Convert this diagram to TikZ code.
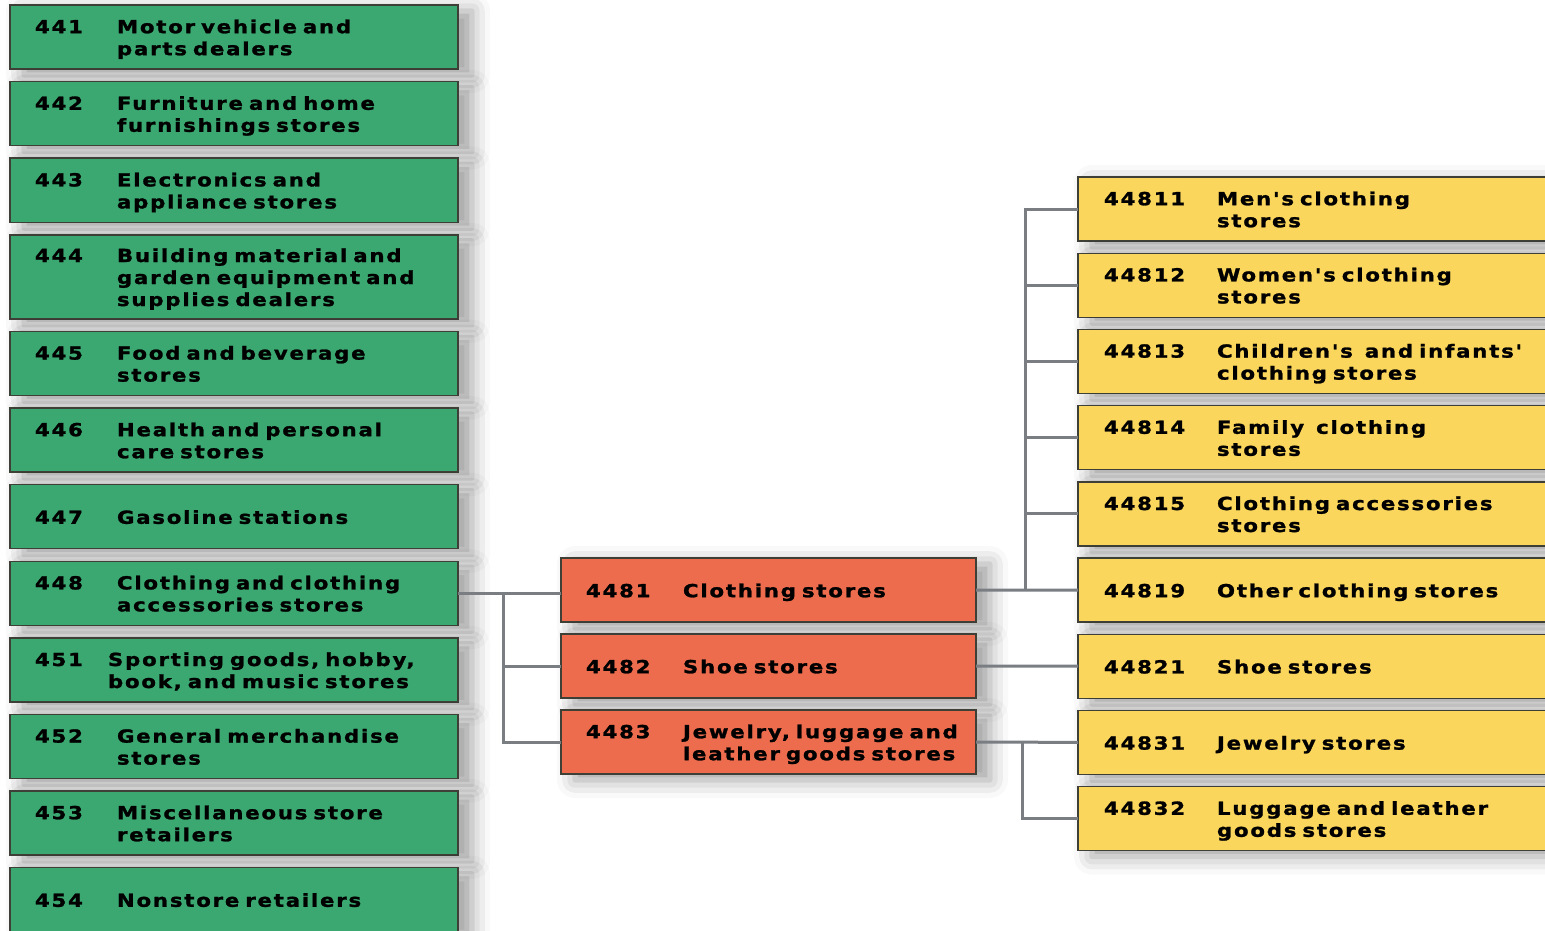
\documentclass[tikz,border=0pt]{standalone}
\usepackage{fontspec}
\newfontfamily\boxfont[FakeStretch=1.18,FakeBold=1.4,LetterSpace=10,WordSpace=1.9]{DejaVu Sans Bold}
\usepackage{tikz}
\usetikzlibrary{positioning, shadows.blur}
\definecolor{sicgreen}{RGB}{58,168,112}
\definecolor{sicred}{RGB}{238,108,78}
\definecolor{sicyellow}{RGB}{250,214,92}
\definecolor{sicborder}{RGB}{62,64,56}
\definecolor{linkgray}{RGB}{122,126,130}
% code in a fixed column, description lines next to it
\newcommand{\naics}[3][\codecol]{\rule{0pt}{21pt}\makebox[#1][l]{#2}\begin{tabular}[t]{@{}l@{}}#3\end{tabular}}
\def\codecol{82pt}
\tikzset{
	every node/.append style={
		outer sep=0pt,
	},
	sicbox/.append style={
		draw=sicborder,
		line width=1.4pt,
		minimum height=64pt,
		inner xsep=25pt,
		inner ysep=0pt,
		align=left,
		font={\boxfont\fontsize{18}{22}\selectfont},
		blur shadow={shadow xshift=14pt, shadow yshift=-6pt, shadow blur radius=18pt, shadow opacity=38}
	},
	sector/.append style={
		sicbox,
		fill=sicgreen,
		text width=398pt,
		execute at begin node={\def\codecol{82pt}}
	},
	industry/.append style={
		sicbox,
		fill=sicred,
		text width=365pt,
		execute at begin node={\def\codecol{97pt}}
	},
	national/.append style={
		sicbox,
		fill=sicyellow,
		inner xsep=26pt,
		text width=428pt,
		execute at begin node={\def\codecol{113pt}}
	},
	link/.append style={
		draw=linkgray,
		line width=3pt
	}
}

\begin{document}
\begin{tikzpicture}[x=1pt,y=1pt]
\useasboundingbox (0,0) rectangle (1545,-931);
\clip (0,0) rectangle (1545,-931);

\node(g441)[sector, anchor=north west] at (10,-5) {\naics{441}{Motor vehicle and\\parts dealers}};
\node(g442)[sector, below=12.6pt of g441] {\naics{442}{Furniture and home\\furnishings stores}};
\node(g443)[sector, below=12.6pt of g442] {\naics{443}{Electronics and\\appliance stores}};
\node(g444)[sector, below=12.6pt of g443, minimum height=84pt] {\naics{444}{Building material and\\garden equipment and\\supplies dealers}};
\node(g445)[sector, below=12.6pt of g444] {\naics{445}{Food and beverage\\stores}};
\node(g446)[sector, below=12.6pt of g445] {\naics{446}{Health and personal\\care stores}};
\node(g447)[sector, below=12.6pt of g446] {\naics{447}{Gasoline stations}};
\node(g448)[sector, below=12.6pt of g447] {\naics{448}{Clothing and clothing\\accessories stores}};
\node(g451)[sector, below=12.6pt of g448] {\naics[73pt]{451}{Sporting goods, hobby,\\book, and music stores}};
\node(g452)[sector, below=12.6pt of g451] {\naics{452}{General merchandise\\stores}};
\node(g453)[sector, below=12.6pt of g452] {\naics{453}{Miscellaneous store\\retailers}};
\node(g454)[sector, below=12.6pt of g453] {\naics{454}{Nonstore retailers}};

\node(r4481)[industry, anchor=north west] at (561,-558) {\naics{4481}{Clothing stores}};
\node(r4482)[industry, below=12pt of r4481] {\naics{4482}{Shoe stores}};
\node(r4483)[industry, below=12pt of r4482] {\naics{4483}{Jewelry, luggage and\\leather goods stores}};

\node(y44811)[national, anchor=north west] at (1078,-177) {\naics{44811}{Men's clothing\\stores}};
\node(y44812)[national, below=12.2pt of y44811] {\naics{44812}{Women's clothing\\stores}};
\node(y44813)[national, below=12.2pt of y44812] {\naics{44813}{Children's\ \ and infants'\\clothing stores}};
\node(y44814)[national, below=12.2pt of y44813] {\naics{44814}{Family\ \ clothing\\stores}};
\node(y44815)[national, below=12.2pt of y44814] {\naics{44815}{Clothing accessories\\stores}};
\node(y44819)[national, below=12.2pt of y44815] {\naics{44819}{Other clothing stores}};
\node(y44821)[national, below=12.2pt of y44819] {\naics{44821}{Shoe stores}};
\node(y44831)[national, below=12.2pt of y44821] {\naics{44831}{Jewelry stores}};
\node(y44832)[national, below=12.2pt of y44831] {\naics{44832}{Luggage and leather\\goods stores}};

% 448 -> 4481..4483
\coordinate[right=45pt of g448.east] (jl);
\draw[link] (g448.east) -- (g448.east -| r4481.west);
\draw[link] (jl) |- (r4482.west);
\draw[link] (jl) |- (r4483.west);

% 4481 -> 44811..44819
\coordinate[right=49pt of r4481.east] (jr);
\draw[link] (r4481.east) -- (y44819.west);
\foreach \n in {44811,44812,44813,44814,44815}
	\draw[link] (jr) |- (y\n.west);

\draw[link] (r4482.east) -- (y44821.west);

% 4483 -> 44831, 44832
\coordinate[right=46pt of r4483.east] (jj);
\draw[link] (r4483.east) -- (y44831.west);
\draw[link] (jj) |- (y44832.west);
\end{tikzpicture}
\end{document}
